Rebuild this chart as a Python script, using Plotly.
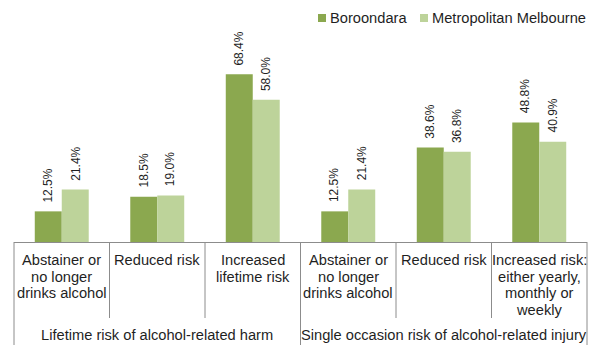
import plotly.graph_objects as go

# ---------------- data ----------------
GROUPS = ["Lifetime risk of alcohol-related harm",
          "Single occasion risk of alcohol-related injury"]
CATEGORIES = ["Abstainer or<br>no longer<br>drinks alcohol",
              "Reduced risk",
              "Increased<br>lifetime risk",
              "Abstainer or<br>no longer<br>drinks alcohol",
              "Reduced risk",
              "Increased risk:<br>either yearly,<br>monthly or<br>weekly"]
GROUP_OF = [0, 0, 0, 1, 1, 1]
SERIES = ["Boroondara", "Metropolitan Melbourne"]
BOROONDARA = [12.5, 18.5, 68.4, 12.5, 38.6, 48.8]
METRO = [21.4, 19.0, 58.0, 21.4, 36.8, 40.9]

# ---------------- style ----------------
W, H = 602, 352
ML, MR, MT, MB = 14, 15, 30, 110
PW, PH = W - ML - MR, H - MT - MB
YMAX = 86.5
BARGAP = 0.435
COLORS = ["#8BA84F", "#BDD39A"]
LINE = "#8C8C8C"
TXT = "#1F1F1F"
FONT = "Liberation Sans, Arial, sans-serif"
FS = 14.67

n = len(CATEGORIES)
xs = list(range(n))


def px_x(xd):
    return (xd + 0.5) / n


def py(pix):  # pixel y (from top of page) -> paper y
    return (H - MB - pix) / PH


fig = go.Figure()
for name, vals, col in zip(SERIES, [BOROONDARA, METRO], COLORS):
    fig.add_trace(go.Bar(x=xs, y=vals, name=name, marker_color=col,
                         marker_line_width=0, showlegend=False))

annotations = []
shapes = []
half = (1 - BARGAP) / 4
for s, vals in enumerate([BOROONDARA, METRO]):
    off = -half if s == 0 else half
    for i, v in enumerate(vals):
        annotations.append(dict(x=i + off, y=v, xref="x", yref="y",
                                text=f"{v:.1f}%", showarrow=False,
                                textangle=-90, xanchor="center", yanchor="bottom",
                                yshift=7, font=dict(family=FONT, size=12, color=TXT)))

# category labels (one annotation per line, Excel-like line spacing)
for i, lab in enumerate(CATEGORIES):
    for k, line in enumerate(lab.split("<br>")):
        annotations.append(dict(x=i, y=0, xref="x", yref="paper", text=line,
                                showarrow=False, xanchor="center", yanchor="middle",
                                yshift=-(18 + 16.5 * k),
                                font=dict(family=FONT, size=FS, color=TXT)))

# group labels
for g, gname in enumerate(GROUPS):
    idx = [i for i in range(n) if GROUP_OF[i] == g]
    cx = sum(idx) / len(idx)
    annotations.append(dict(x=cx, y=0, xref="x", yref="paper", text=gname,
                            showarrow=False, xanchor="center", yanchor="middle",
                            yshift=-92.5, font=dict(family=FONT, size=FS, color=TXT)))

# divider lines
for b in range(n + 1):
    xb = b - 0.5
    outer = b == 0 or b == n or GROUP_OF[b - 1] != GROUP_OF[b]
    bottom = 345 if outer else 318
    shapes.append(dict(type="line", xref="paper", yref="paper",
                       x0=px_x(xb), x1=px_x(xb), y0=0, y1=py(bottom),
                       line=dict(color=LINE, width=1)))

# custom legend
leg_items = [(SERIES[0], COLORS[0], 318), (SERIES[1], COLORS[1], 420)]
for name, col, x0 in leg_items:
    shapes.append(dict(type="rect", xref="paper", yref="paper",
                       x0=(x0 - ML) / PW, x1=(x0 + 8 - ML) / PW,
                       y0=py(22), y1=py(14), fillcolor=col, line=dict(width=0)))
    annotations.append(dict(x=(x0 + 9.5 - ML) / PW, y=py(17.5), xref="paper", yref="paper",
                            text=name, showarrow=False, xanchor="left", yanchor="middle",
                            font=dict(family=FONT, size=FS, color=TXT)))

fig.update_layout(
    width=W, height=H,
    margin=dict(l=ML, r=MR, t=MT, b=MB, pad=0),
    paper_bgcolor="white", plot_bgcolor="white",
    barmode="group", bargap=BARGAP, bargroupgap=0,
    xaxis=dict(range=[-0.5, n - 0.5], showticklabels=False, showgrid=False,
               zeroline=False, showline=True, linecolor=LINE, linewidth=1, ticks=""),
    yaxis=dict(range=[0, YMAX], visible=False, showgrid=False, zeroline=False),
    annotations=annotations, shapes=shapes,
    showlegend=False,
)

fig.write_html("out.html")
